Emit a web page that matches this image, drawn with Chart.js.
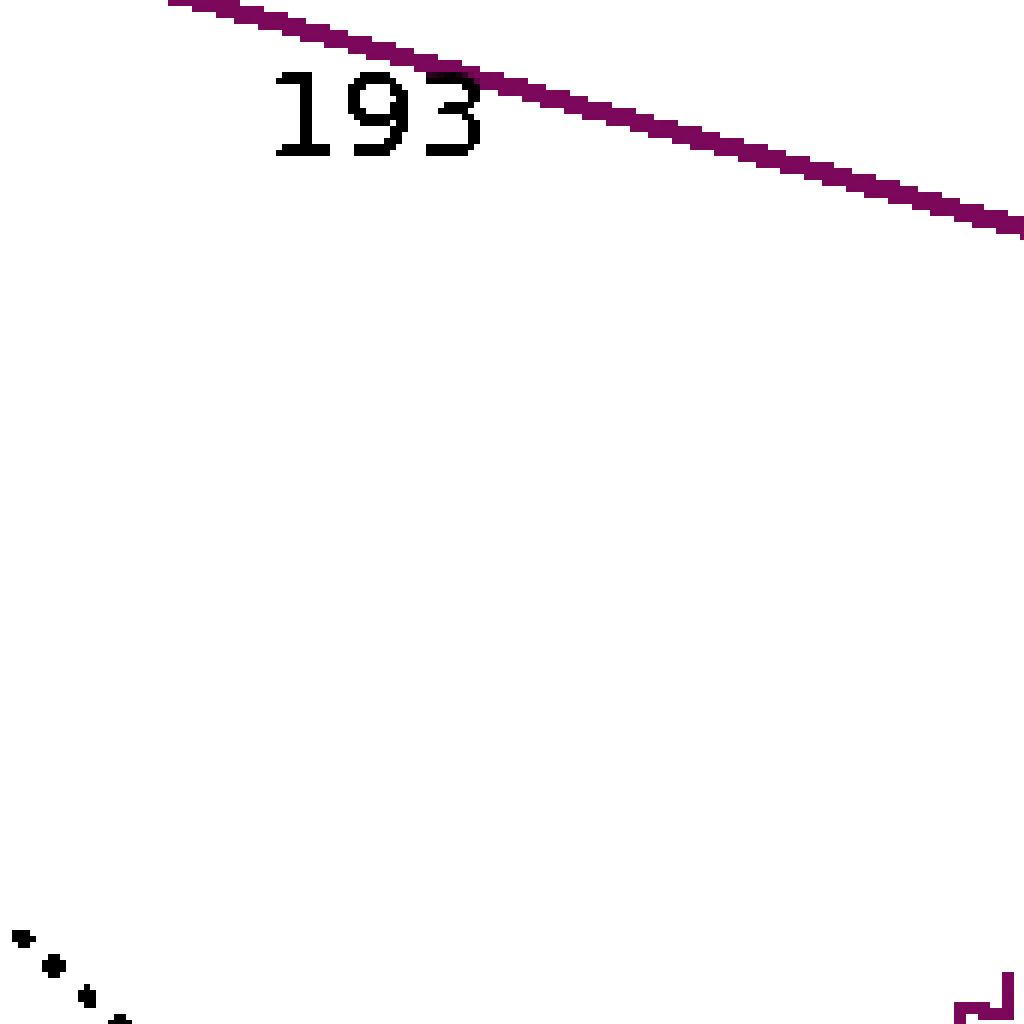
<!DOCTYPE html>
<html>
<head>
<meta charset="utf-8">
<script src="https://cdn.jsdelivr.net/npm/chart.js@4/dist/chart.umd.min.js"></script>
<style>
  html { margin: 0; padding: 0; background: #fff; overflow: hidden; }
  body { margin: 0; padding: 0; width: 1024px; height: 1024px; background: #fff; }
  .zoom { width: 171px; height: 171px; transform: scale(6); transform-origin: 0 0; }
  #chart { image-rendering: pixelated; }
</style>
</head>
<body>
<div class="zoom"><canvas id="chart" width="171" height="171"></canvas></div>
<script>
// values (the picture is a 6x close-up of the chart)
let trendX = [-5, 63, 180];
let trendY = [181.4, 162.6, 130.4];
let trendLabels = ['', '193', ''];

let dottedX = [-7.05, 25.35];
let dottedY = [24.65, -4.9];

let tailX = [159, 160.5, 167.8, 168.2];
let tailY = [-2, 3.2, 1.8, 9.3];

const purple = '#7b085a';

function toPoints(xs, ys) {
  let pts = [];
  for (let i = 0; i < xs.length; i++) {
    pts.push({ x: xs[i], y: ys[i] });
  }
  return pts;
}

// value labels under the trend line
const labelPlugin = {
  id: 'valueLabels',
  afterDatasetsDraw(chart) {
    let ctx = chart.ctx;
    let meta = chart.getDatasetMeta(0);
    ctx.save();
    ctx.font = '20px "DejaVu Sans"';
    ctx.fillStyle = '#000';
    ctx.textAlign = 'center';
    ctx.textBaseline = 'alphabetic';
    for (let i = 0; i < trendLabels.length; i++) {
      if (!trendLabels[i]) continue;
      let p = meta.data[i];
      ctx.fillText(trendLabels[i], p.x, p.y + 17.6);
    }
    ctx.restore();
  }
};

// hard edges like the reference (no anti-aliasing)
const hardEdges = {
  id: 'hardEdges',
  afterDraw(chart) {
    let ctx = chart.ctx;
    let w = chart.canvas.width;
    let h = chart.canvas.height;
    let img = ctx.getImageData(0, 0, w, h);
    let d = img.data;
    for (let i = 3; i < d.length; i += 4) {
      d[i] = d[i] >= 100 ? 255 : 0;
    }
    ctx.putImageData(img, 0, 0);
  }
};

const config = {
  type: 'scatter',
  data: {
    datasets: [
      {
        label: 'trend',
        data: toPoints(trendX, trendY),
        showLine: true,
        borderColor: purple,
        borderWidth: 3,
        pointRadius: 0
      },
      {
        label: 'dotted',
        data: toPoints(dottedX, dottedY),
        showLine: true,
        borderColor: '#000',
        borderWidth: 3.4,
        borderCapStyle: 'round',
        borderDash: [0.01, 7.31],
        pointRadius: 0
      },
      {
        label: 'tail',
        data: toPoints(tailX, tailY),
        showLine: true,
        borderColor: purple,
        borderWidth: 2,
        borderJoinStyle: 'miter',
        pointRadius: 0
      }
    ]
  },
  options: {
    responsive: false,
    devicePixelRatio: 1,
    animation: false,
    layout: { padding: 0 },
    plugins: {
      legend: { display: false },
      tooltip: { enabled: false }
    },
    scales: {
      x: { type: 'linear', min: 0, max: 171, display: false },
      y: { type: 'linear', min: 0, max: 171, display: false }
    }
  },
  plugins: [labelPlugin, hardEdges]
};

let canvasChart = document.getElementById('chart');
const myChart = new Chart(canvasChart, config);
</script>
</body>
</html>
